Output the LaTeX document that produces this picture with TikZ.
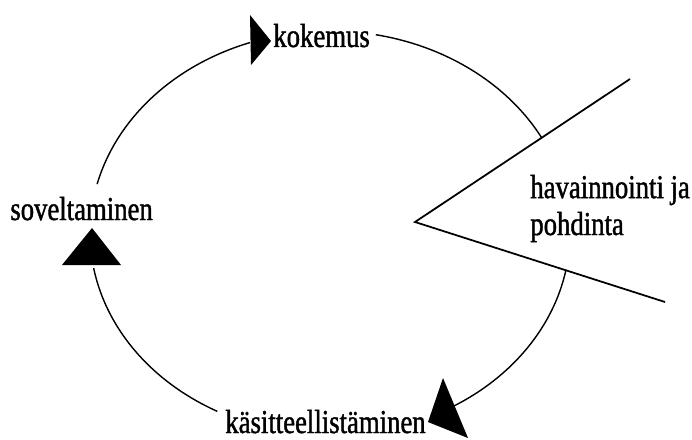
\documentclass[tikz,border=0pt]{standalone}
\usepackage{fontspec}
\setmainfont[FakeStretch=0.8,FakeBold=1.2]{Liberation Serif}
\usetikzlibrary{calc}

\begin{document}
\begin{tikzpicture}[
  stage/.style={
    inner sep=0pt,
    anchor=base west,
    font=\fontsize{19}{21}\selectfont
  },
  head/.style={
    fill=black
  },
  cycle/.style={
    draw=black,
    line width=0.8pt
  }
]
\useasboundingbox (0,0) rectangle (13.84,-8.78);

% Centre of the cycle
\coordinate (ctr) at (6.6,-4.66);

% Stages
\node[stage] (kokemus) at (5.46,-0.94) {kokemus};
\node[stage] (soveltaminen) at (0.2,-4.4) {soveltaminen};
\node[stage] (kasitteet) at (4.5,-8.66) {käsitteellistäminen};
\node[stage, align=left] (havainnointi) at (10.6,-4.7) {havainnointi ja\\pohdinta};

% Wedge
\coordinate (tip) at (8.3,-4.44);
\coordinate (upper) at (12.6,-1.58);
\coordinate (lower) at (13.3,-6.04);

% Arc ends
\coordinate (a1) at ($(ctr)+(166:4.8 and 4.04)$);
\coordinate (a2) at ($(ctr)+(79:4.8 and 4.04)$);
\coordinate (a3) at ($(ctr)+(-10.5:4.8 and 4.04)$);
\coordinate (a4) at ($(ctr)+(-118:4.8 and 4.04)$);

% Arrow heads
\fill[head] (5.0,-0.3) -- (5.02,-1.3) -- (5.42,-0.82) -- cycle;
\fill[head] (1.84,-4.56) -- (1.24,-5.3) -- (2.42,-5.3) -- cycle;
\fill[head] (8.86,-7.56) -- (8.56,-8.44) -- (9.36,-8.76) -- cycle;

% Connections
\draw[cycle] (a1) arc[start angle=166, end angle=109.5, x radius=4.8, y radius=4.04];
\draw[cycle] (a2) arc[start angle=79, end angle=28, x radius=4.8, y radius=4.04];
\draw[cycle] (a3) arc[start angle=-10.5, end angle=-59, x radius=4.8, y radius=4.04];
\draw[cycle] (a4) arc[start angle=-118, end angle=-170, x radius=4.8, y radius=4.04];
\draw[cycle, line width=1pt] (upper) -- (tip) -- (lower);

\end{tikzpicture}
\end{document}
